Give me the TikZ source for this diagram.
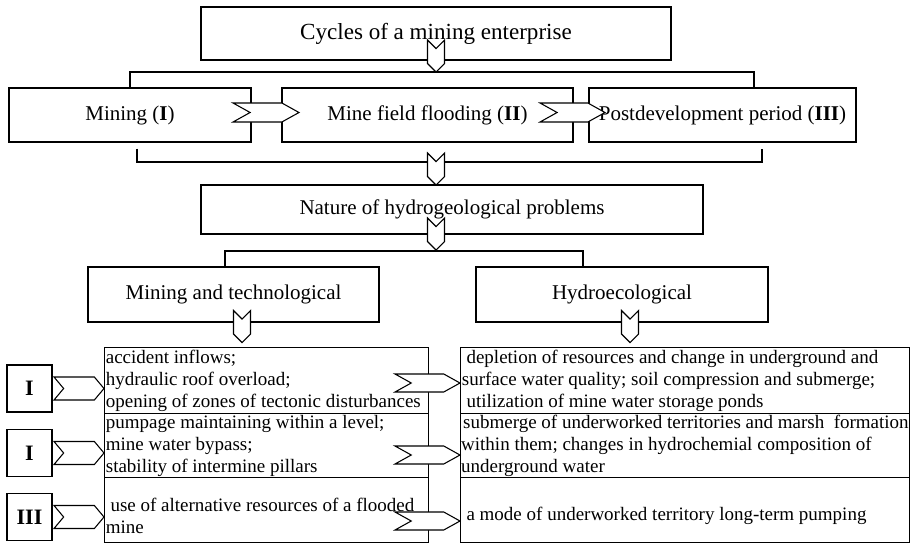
\documentclass[tikz,border=0pt]{standalone}
\usepackage{fontspec}
\setmainfont{Liberation Serif}
\usetikzlibrary{shapes.symbols}
\newcommand{\pxu}{0.75pt}
\begin{document}
\begin{tikzpicture}[x = 0.75pt, y = -0.75pt, line width = 0.8pt,
        box/.style = {draw, inner sep = 0pt, align = center, font = \fontsize{15.75}{18}\selectfont},
        cell/.style = {draw, inner sep = 0pt, anchor = north west},
        celltext/.style = {anchor = west, inner xsep = 1pt, inner ysep = 0pt, align = left, font = \fontsize{14.25}{16.5}\selectfont},
        roman/.style = {draw, inner sep = 0pt, minimum width = 45*\pxu, minimum height = 47*\pxu, font = \fontsize{16.5}{16.5}\selectfont\bfseries},
        chevr/.style = {signal, draw, fill = white, inner sep = 0pt, signal from = west, signal to = east, signal pointer angle = 58},
        chevs/.style = {chevr, signal pointer angle = 100, minimum width = 50*\pxu, minimum height = 23*\pxu},
        chevd/.style = {signal, draw, fill = white, inner sep = 0pt, signal from = north, signal to = south, signal pointer angle = 90, minimum width = 17*\pxu, minimum height = 15*\pxu}]
        \useasboundingbox (0, 0) rectangle (910, 543);
        \node [box, minimum width = 470*\pxu, minimum height = 53*\pxu, font = \fontsize{17.3}{18}\selectfont] (cycles) at (436, 33.5) {Cycles of a mining enterprise};
        \node [box, minimum width = 242*\pxu, minimum height = 54*\pxu] (mining) at (130, 115) {Mining (\textbf{I})};
        \node [box, minimum width = 291*\pxu, minimum height = 54*\pxu] (flooding) at (427.5, 115) {Mine field flooding (\textbf{II})};
        \node [box, minimum width = 267*\pxu, minimum height = 54*\pxu] (postdev) at (722.5, 115) {Postdevelopment period (\textbf{III})};
        \node [box, minimum width = 502*\pxu, minimum height = 49*\pxu] (nature) at (452, 209.5) {Nature of hydrogeological problems};
        \node [box, minimum width = 291*\pxu, minimum height = 55*\pxu] (mintech) at (233.5, 294.5) {Mining and technological};
        \node [box, minimum width = 292*\pxu, minimum height = 55*\pxu] (hydro) at (622, 294.5) {Hydroecological};
        \coordinate (split1) at (436, 72);
        \coordinate (join1) at (436, 162);
        \coordinate (split2) at (436, 251);
        \draw (mining.north) |- (split1) -| ([shift = {(31.5, 0)}]postdev.north);
        \draw ([shift = {(7, 6)}]mining.south) |- (join1) -| ([shift = {(39.5, 6)}]postdev.south);
        \draw ([shift = {(-8.5, 0)}]mintech.north) |- (split2) -| ([shift = {(-39, 0)}]hydro.north);
        \node [chevr, minimum width = 66*\pxu, minimum height = 19*\pxu] (miningflood) at (266, 112.5) {};
        \node [chevr, minimum width = 65*\pxu, minimum height = 19*\pxu] (floodpost) at (572.5, 112.5) {};
        \node [chevd] (cyclesdown) at (436, 56) {};
        \node [chevd] (joindown) at (436, 169) {};
        \node [chevd] (naturedown) at (436, 234) {};
        \node [chevd] (mintechdown) at (242, 326.5) {};
        \node [chevd] (hydrodown) at (630, 326.5) {};
        \node [cell, minimum width = 324*\pxu, minimum height = 66*\pxu] (left1) at (104, 347) {};
        \node [cell, minimum width = 324*\pxu, minimum height = 64*\pxu] (left2) at (104, 413) {};
        \node [cell, minimum width = 324*\pxu, minimum height = 65*\pxu] (left3) at (104, 477) {};
        \node [cell, minimum width = 449*\pxu, minimum height = 66*\pxu] (right1) at (460, 347) {};
        \node [cell, minimum width = 449*\pxu, minimum height = 64*\pxu] (right2) at (460, 413) {};
        \node [cell, minimum width = 449*\pxu, minimum height = 65*\pxu] (right3) at (460, 477) {};
        \node [celltext] (lefttext1) at (left1.west) {accident inflows;\\hydraulic roof overload;\\opening of zones of tectonic disturbances};
        \node [celltext] (lefttext2) at (left2.west) {pumpage maintaining within a level;\\mine water bypass;\\stability of intermine pillars};
        \node [celltext] (lefttext3) at ([shift = {(0, 6)}]left3.west) {\hspace*{3.5pt}use of alternative resources of a flooded\\mine};
        \node [celltext] (righttext1) at (right1.west) {\hspace*{3.5pt}depletion of resources and change in underground and\\surface water quality; soil compression and submerge;\\\hspace*{3.5pt}utilization of mine water storage ponds};
        \node [celltext, inner xsep = 0.5pt] (righttext2) at (right2.west) {\hspace*{1.5pt}submerge of underworked territories and marsh~ formation\\within them; changes in hydrochemial composition of\\underground water};
        \node [celltext] (righttext3) at ([shift = {(0, 6)}]right3.west) {\hspace*{3.5pt}a mode of underworked territory long-term pumping};
        \node [roman] (roman1) at (29.5, 388.5) {I};
        \node [roman] (roman2) at (29.5, 453) {I};
        \node [roman] (roman3) at (29.5, 517) {III};
        \node [chevs] (romanarrow1) at (79, 388.5) {};
        \node [chevs] (romanarrow2) at (79, 453) {};
        \node [chevs] (romanarrow3) at (79, 517) {};
        \node [chevr, minimum width = 65*\pxu, minimum height = 18*\pxu] (rowarrow1) at (427.5, 383) {};
        \node [chevr, minimum width = 65*\pxu, minimum height = 18*\pxu] (rowarrow2) at (427.5, 455) {};
        \node [chevr, minimum width = 65*\pxu, minimum height = 18*\pxu] (rowarrow3) at (427.5, 521) {};
\end{tikzpicture}
\end{document}
